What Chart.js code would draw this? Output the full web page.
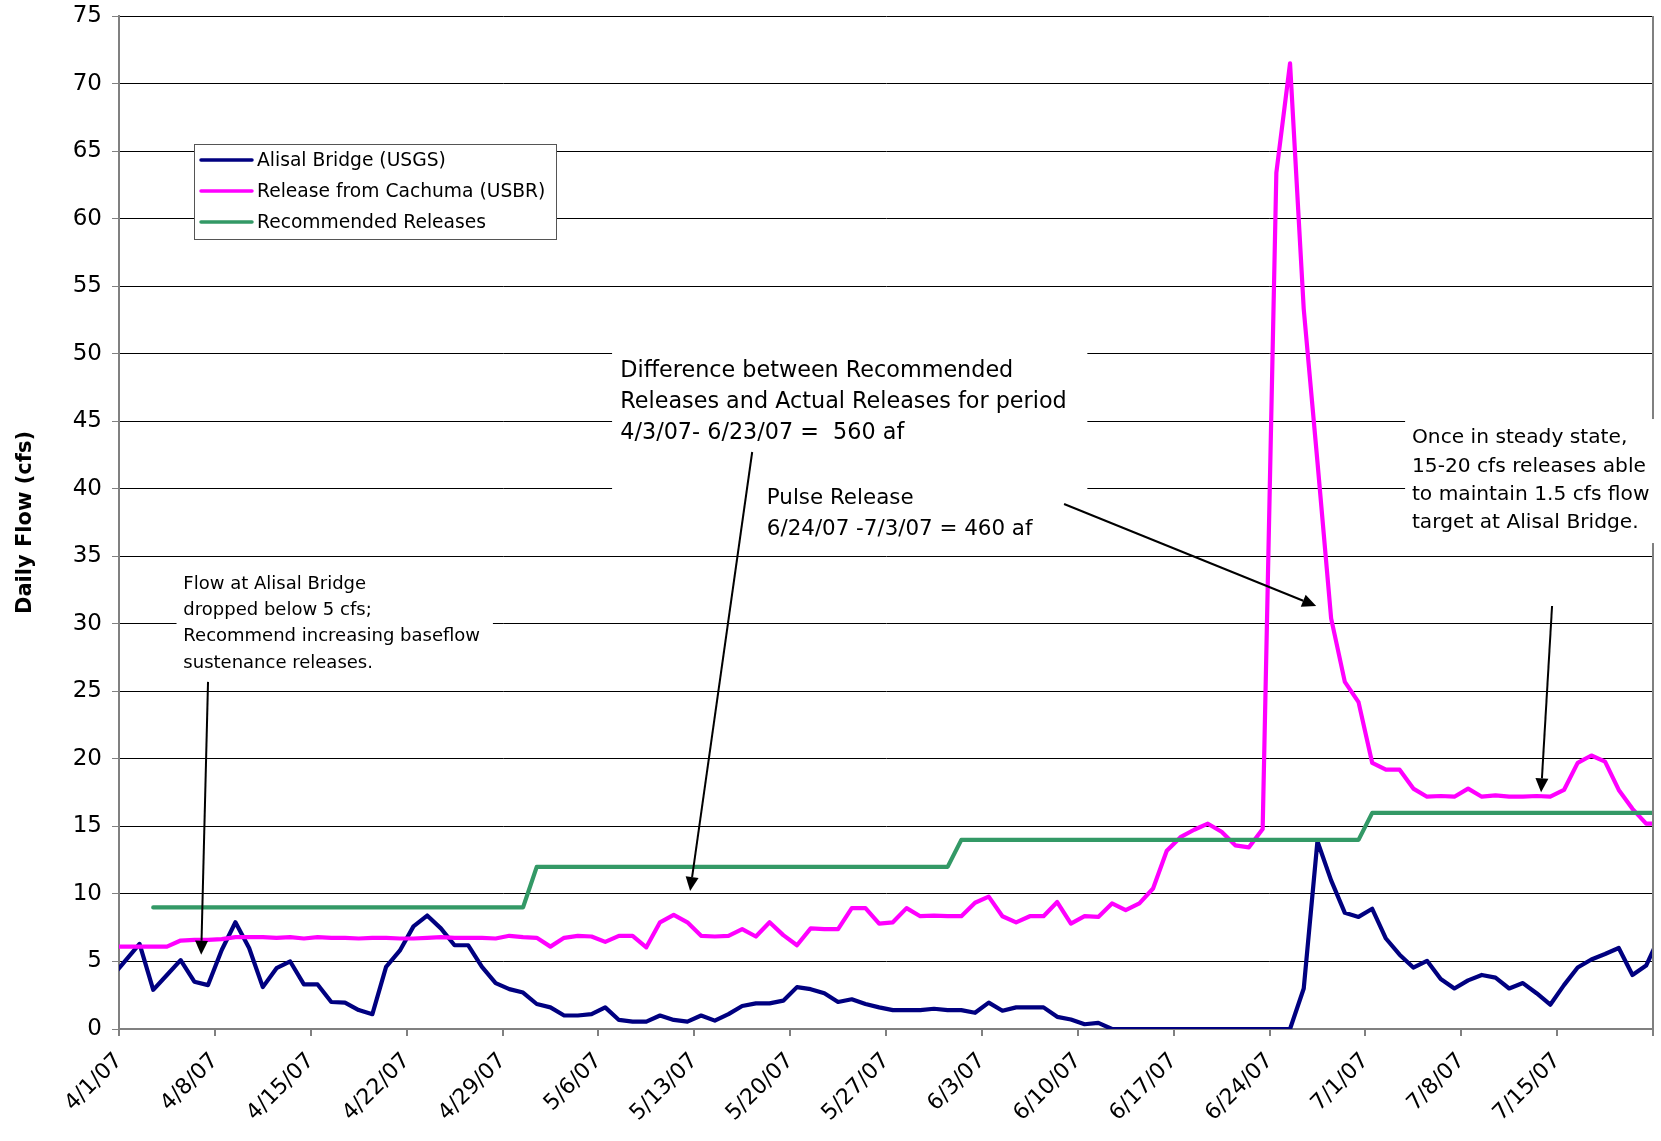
<!DOCTYPE html>
<html>
<head>
<meta charset="utf-8">
<script src="https://cdn.jsdelivr.net/npm/chart.js@4.4.1/dist/chart.umd.min.js"></script>
<style>
  body { margin: 0; background: #fff; }
  canvas { display: block; background: #fff; }
</style>
</head>
<body>
<canvas id="flow-chart" width="1661" height="1141"></canvas>
<script>
const ctxFlow = document.getElementById('flow-chart').getContext('2d')

// Daily values from 3/31/07 to 7/22/07 (the first and last day sit just outside the axis)
const dates = [
  '3/31/07',
  '4/1/07', '4/2/07', '4/3/07', '4/4/07', '4/5/07', '4/6/07', '4/7/07', '4/8/07', '4/9/07', '4/10/07',
  '4/11/07', '4/12/07', '4/13/07', '4/14/07', '4/15/07', '4/16/07', '4/17/07', '4/18/07', '4/19/07', '4/20/07',
  '4/21/07', '4/22/07', '4/23/07', '4/24/07', '4/25/07', '4/26/07', '4/27/07', '4/28/07', '4/29/07', '4/30/07',
  '5/1/07', '5/2/07', '5/3/07', '5/4/07', '5/5/07', '5/6/07', '5/7/07', '5/8/07', '5/9/07', '5/10/07',
  '5/11/07', '5/12/07', '5/13/07', '5/14/07', '5/15/07', '5/16/07', '5/17/07', '5/18/07', '5/19/07', '5/20/07',
  '5/21/07', '5/22/07', '5/23/07', '5/24/07', '5/25/07', '5/26/07', '5/27/07', '5/28/07', '5/29/07', '5/30/07', '5/31/07',
  '6/1/07', '6/2/07', '6/3/07', '6/4/07', '6/5/07', '6/6/07', '6/7/07', '6/8/07', '6/9/07', '6/10/07',
  '6/11/07', '6/12/07', '6/13/07', '6/14/07', '6/15/07', '6/16/07', '6/17/07', '6/18/07', '6/19/07', '6/20/07',
  '6/21/07', '6/22/07', '6/23/07', '6/24/07', '6/25/07', '6/26/07', '6/27/07', '6/28/07', '6/29/07', '6/30/07',
  '7/1/07', '7/2/07', '7/3/07', '7/4/07', '7/5/07', '7/6/07', '7/7/07', '7/8/07', '7/9/07', '7/10/07',
  '7/11/07', '7/12/07', '7/13/07', '7/14/07', '7/15/07', '7/16/07', '7/17/07', '7/18/07', '7/19/07', '7/20/07',
  '7/21/07', '7/22/07',
]

const alisal = [
  3.9, 5.1, 6.3, 2.9, 4.0, 5.1, 3.5, 3.25, 5.85, 7.9,
  6.0, 3.1, 4.5, 5.0, 3.3, 3.3, 2.0, 1.95, 1.4, 1.1,
  4.6, 5.8, 7.6, 8.4, 7.45, 6.2, 6.2, 4.6, 3.4, 2.95,
  2.7, 1.85, 1.6, 1.0, 1.0, 1.1, 1.6, 0.67, 0.55, 0.55,
  1.0, 0.67, 0.55, 1.0, 0.62, 1.1, 1.7, 1.9, 1.9, 2.1,
  3.1, 2.95, 2.65, 2.0, 2.2, 1.85, 1.6, 1.4, 1.4, 1.4,
  1.5, 1.4, 1.4, 1.2, 1.95, 1.35, 1.6, 1.6, 1.6, 0.9,
  0.7, 0.35, 0.45, 0, 0, 0, 0, 0, 0, 0,
  0, 0, 0, 0, 0, 0, 0, 3.0, 13.9, 11.0,
  8.6, 8.3, 8.9, 6.7, 5.5, 4.55, 5.05, 3.7, 3.0, 3.6,
  4.0, 3.8, 3.0, 3.4, 2.65, 1.8, 3.25, 4.55, 5.15, 5.55,
  6.0, 4.0, 4.7, 6.9,
]

const cachuma = [
  6.1, 6.1, 6.1, 6.1, 6.1, 6.55, 6.6, 6.6, 6.65, 6.8,
  6.8, 6.8, 6.75, 6.8, 6.7, 6.8, 6.75, 6.75, 6.7, 6.75,
  6.75, 6.7, 6.7, 6.75, 6.8, 6.75, 6.75, 6.75, 6.7, 6.9,
  6.8, 6.75, 6.1, 6.75, 6.9, 6.85, 6.45, 6.9, 6.9, 6.05,
  7.9, 8.45, 7.9, 6.9, 6.85, 6.9, 7.4, 6.85, 7.9, 6.95,
  6.2, 7.45, 7.4, 7.4, 8.95, 8.95, 7.8, 7.9, 8.95, 8.35,
  8.4, 8.35, 8.35, 9.35, 9.8, 8.35, 7.9, 8.35, 8.35, 9.4,
  7.8, 8.35, 8.3, 9.3, 8.8, 9.3, 10.4, 13.2, 14.2, 14.75,
  15.2, 14.6, 13.6, 13.45, 14.8, 63.4, 71.5, 53.3, 42.0, 30.4,
  25.7, 24.2, 19.7, 19.2, 19.2, 17.8, 17.2, 17.25, 17.2, 17.8,
  17.2, 17.3, 17.2, 17.2, 17.25, 17.2, 17.7, 19.7, 20.25, 19.8,
  17.7, 16.3, 15.2, 15.2,
]

const recommended = [
  null, null, null, 9, 9, 9, 9, 9, 9, 9,
  9, 9, 9, 9, 9, 9, 9, 9, 9, 9,
  9, 9, 9, 9, 9, 9, 9, 9, 9, 9,
  9, 12, 12, 12, 12, 12, 12, 12, 12, 12,
  12, 12, 12, 12, 12, 12, 12, 12, 12, 12,
  12, 12, 12, 12, 12, 12, 12, 12, 12, 12,
  12, 12, 14, 14, 14, 14, 14, 14, 14, 14,
  14, 14, 14, 14, 14, 14, 14, 14, 14, 14,
  14, 14, 14, 14, 14, 14, 14, 14, 14, 14,
  14, 14, 16, 16, 16, 16, 16, 16, 16, 16,
  16, 16, 16, 16, 16, 16, 16, 16, 16, 16,
  16, 16, 16, 16,
]

const weekLabels = [
  '4/1/07', '4/8/07', '4/15/07', '4/22/07', '4/29/07', '5/6/07', '5/13/07', '5/20/07',
  '5/27/07', '6/3/07', '6/10/07', '6/17/07', '6/24/07', '7/1/07', '7/8/07', '7/15/07',
]

// x is days after 4/1/07; each day is plotted in the middle of its slot
const toPoints = values => dates.map((d, i) => ({ x: i - 0.5, y: values[i] }))

// Text boxes and arrows, placed in data units [day, cfs]
const notes = [
  {
    box: [4.2, 34.6, 27.3, 25.8],
    text: [4.7, 32.6], size: 18, lead: 26.3,
    lines: ['Flow at Alisal Bridge', 'dropped below 5 cfs;', 'Recommend increasing baseflow', 'sustenance releases.'],
    arrow: [6.5, 25.7, 6.0, 5.5],
  },
  {
    box: [36.0, 50.6, 70.7, 36.6],
    text: [36.6, 48.3], size: 22.3, lead: 31.3,
    lines: ['Difference between Recommended', 'Releases and Actual Releases for period', '4/3/07- 6/23/07 =  560 af'],
    arrow: [46.23, 42.72, 41.7, 10.22],
  },
  {
    text: [47.3, 38.85], size: 21.4, lead: 31,
    lines: ['Pulse Release', '6/24/07 -7/3/07 = 460 af'],
    arrow: [69.0, 38.87, 87.41, 31.32],
  },
  {
    box: [93.9, 45.16, 113, 35.98],
    text: [94.4, 43.36], size: 20.2, lead: 28.3,
    lines: ['Once in steady state,', '15-20 cfs releases able', 'to maintain 1.5 cfs flow', 'target at Alisal Bridge.'],
    arrow: [104.63, 31.32, 103.83, 17.52],
  },
]

function drawArrow(ctx, x1, y1, x2, y2) {
  const ang = Math.atan2(y2 - y1, x2 - x1)
  const head = 14
  const half = 6.5
  const bx = x2 - head * Math.cos(ang)
  const by = y2 - head * Math.sin(ang)
  ctx.beginPath()
  ctx.moveTo(x1, y1)
  ctx.lineTo(bx, by)
  ctx.stroke()
  ctx.beginPath()
  ctx.moveTo(x2, y2)
  ctx.lineTo(bx + half * Math.sin(ang), by - half * Math.cos(ang))
  ctx.lineTo(bx - half * Math.sin(ang), by + half * Math.cos(ang))
  ctx.closePath()
  ctx.fill()
}

const notesPlugin = {
  id: 'notes',
  afterDraw(chart) {
    const { ctx, chartArea, scales: { x, y } } = chart
    ctx.save()

    // right-hand edge of the plot area
    ctx.strokeStyle = '#808080'
    ctx.lineWidth = 2
    ctx.beginPath()
    ctx.moveTo(chartArea.right, chartArea.top)
    ctx.lineTo(chartArea.right, chartArea.bottom)
    ctx.stroke()

    notes.forEach(n => {
      if (n.box) {
        const x0 = x.getPixelForValue(n.box[0])
        const y0 = y.getPixelForValue(n.box[1])
        ctx.fillStyle = '#fff'
        ctx.fillRect(x0, y0, x.getPixelForValue(n.box[2]) - x0, y.getPixelForValue(n.box[3]) - y0)
      }
      ctx.fillStyle = '#000'
      ctx.font = `${n.size}px "DejaVu Sans"`
      ctx.textBaseline = 'alphabetic'
      ctx.textAlign = 'left'
      const tx = x.getPixelForValue(n.text[0])
      const ty = y.getPixelForValue(n.text[1])
      n.lines.forEach((t, i) => ctx.fillText(t, tx, ty + i * n.lead))
      if (n.arrow) {
        ctx.strokeStyle = '#000'
        ctx.lineWidth = 2
        drawArrow(ctx,
          x.getPixelForValue(n.arrow[0]), y.getPixelForValue(n.arrow[1]),
          x.getPixelForValue(n.arrow[2]), y.getPixelForValue(n.arrow[3]))
      }
    })

    // legend box
    const lx = chartArea.left + 75
    const ly = 144
    ctx.fillStyle = '#fff'
    ctx.fillRect(lx, ly, 362, 95)
    ctx.strokeStyle = '#555'
    ctx.lineWidth = 1
    ctx.strokeRect(lx + 0.5, ly + 0.5, 362, 95)
    ctx.font = '18.7px "DejaVu Sans"'
    ctx.textBaseline = 'middle'
    chart.data.datasets.forEach((ds, i) => {
      const rowY = ly + 16 + i * 31
      ctx.strokeStyle = ds.borderColor
      ctx.lineWidth = 3.5
      ctx.lineCap = 'round'
      ctx.beginPath()
      ctx.moveTo(lx + 7, rowY)
      ctx.lineTo(lx + 58, rowY)
      ctx.stroke()
      ctx.fillStyle = '#000'
      ctx.fillText(ds.label, lx + 63, rowY + 1)
    })
    ctx.restore()
  },
}

Chart.defaults.font.family = '"DejaVu Sans", sans-serif'
Chart.defaults.color = '#000'

const configFlow = {
  type: 'line',
  data: {
    datasets: [
      { label: 'Alisal Bridge (USGS)', data: toPoints(alisal), borderColor: '#000080', order: 2, clip: 0 },
      { label: 'Release from Cachuma (USBR)', data: toPoints(cachuma), borderColor: '#ff00ff', order: 1, clip: 0 },
      { label: 'Recommended Releases', data: toPoints(recommended), borderColor: '#339966', order: 0, clip: 0 },
    ],
  },
  options: {
    responsive: false,
    animation: false,
    layout: { padding: { top: 16, right: 8, left: 0, bottom: 0 } },
    elements: {
      point: { radius: 0, hoverRadius: 0 },
      line: { borderWidth: 4.2, tension: 0, borderJoinStyle: 'round', borderCapStyle: 'round', fill: false },
    },
    plugins: {
      legend: { display: false },
      tooltip: { enabled: false },
    },
    scales: {
      x: {
        type: 'linear',
        min: 0,
        max: 112,
        afterFit: scale => {
          scale.height = 112
          scale.paddingLeft = 0
          scale.paddingRight = 0
        },
        ticks: {
          stepSize: 7,
          autoSkip: false,
          maxTicksLimit: 30,
          minRotation: 45,
          maxRotation: 45,
          padding: 12,
          font: { size: 22 },
          callback: value => weekLabels[value / 7] ?? '',
        },
        grid: { drawOnChartArea: false, tickLength: 7, color: '#808080', lineWidth: 2 },
        border: { color: '#808080', width: 2 },
      },
      y: {
        min: 0,
        max: 75,
        afterFit: scale => {
          scale.width = 119
          scale.paddingTop = 0
          scale.paddingBottom = 0
        },
        ticks: { stepSize: 5, padding: 10, font: { size: 23 } },
        grid: { color: '#000', lineWidth: 1, tickLength: 7, tickColor: '#808080' },
        border: { color: '#808080', width: 2 },
        title: {
          display: true,
          text: 'Daily Flow (cfs)',
          font: { size: 21, weight: 'bold' },
          padding: { top: 13, bottom: 0 },
        },
      },
    },
  },
  plugins: [notesPlugin],
}
const flowChart = new Chart(ctxFlow, configFlow)
</script>
</body>
</html>
